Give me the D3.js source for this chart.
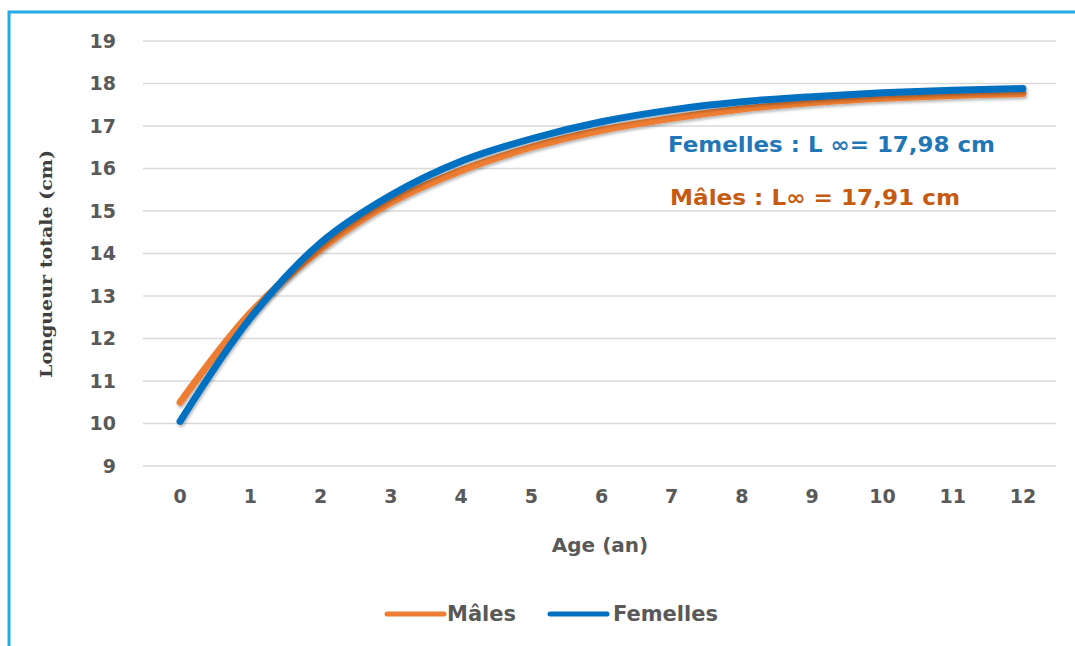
<!DOCTYPE html>
<html><head><meta charset="utf-8">
<script src="https://cdn.jsdelivr.net/npm/d3@7/dist/d3.min.js"></script>
<style>body{margin:0;background:#fff}svg{display:block}</style>
</head><body>
<svg id="c" width="1075" height="646"></svg>
<script>
const ages = [0,1,2,3,4,5,6,7,8,9,10,11,12];
const males = [10.5,12.6,14.1,15.2,15.95,16.5,16.9,17.18,17.4,17.55,17.65,17.72,17.76];
const femelles = [10.05,12.48,14.25,15.37,16.17,16.7,17.1,17.38,17.57,17.69,17.78,17.84,17.88];
const yTicks = [9,10,11,12,13,14,15,16,17,18,19];
const seriesNames = ["Mâles","Femelles"];
const seriesColors = ["#ED7D31","#0070C0"];
const annotations = ["Femelles : L ∞= 17,98 cm","Mâles : L∞ = 17,91 cm"];
const annColors = ["#1F77B8","#C55A11"];

const svg = d3.select("#c");
const defs = svg.append("defs");
const f = defs.append("filter").attr("id","sh").attr("x","-10%").attr("y","-10%").attr("width","120%").attr("height","130%");
f.append("feDropShadow").attr("dx",1).attr("dy",2).attr("stdDeviation",1.5).attr("flood-color","#000").attr("flood-opacity",0.3);

svg.append("rect").attr("x",0).attr("y",0).attr("width",1075).attr("height",646).attr("fill","#fff");
svg.append("path").attr("d","M9,646 V12 H1075").attr("fill","none").attr("stroke","#22AAE6").attr("stroke-width",3);

const x = d3.scaleBand().domain(ages).range([143,1056]);
const y = d3.scaleLinear().domain([9,19]).range([466,41]);
const font = "'DejaVu Sans', Verdana, sans-serif";

svg.append("g").selectAll("line").data(yTicks).join("line")
  .attr("x1",143).attr("x2",1056).attr("y1",d=>y(d)).attr("y2",d=>y(d))
  .attr("stroke","#D9D9D9").attr("stroke-width",1.3);

const ya = svg.append("g").attr("transform","translate(143,0)")
  .call(d3.axisLeft(y).tickValues(yTicks).tickSize(0).tickPadding(27));
ya.select(".domain").remove();
ya.selectAll("text").attr("font-family",font).attr("font-weight",700).attr("font-size",19).attr("fill","#595959");

const xa = svg.append("g").attr("transform","translate(2,466)")
  .call(d3.axisBottom(x).tickSize(0).tickPadding(24));
xa.select(".domain").remove();
xa.selectAll("text").attr("font-family",font).attr("font-weight",700).attr("font-size",19).attr("fill","#595959");

svg.append("text").attr("transform","translate(52,264) rotate(-90)").attr("text-anchor","middle")
  .attr("font-family","'DejaVu Serif','Liberation Serif',serif").attr("font-weight",700).attr("font-size",17)
  .attr("textLength",228).attr("lengthAdjust","spacingAndGlyphs")
  .attr("fill","#3F3F3F").text("Longueur totale (cm)");
svg.append("text").attr("x",600).attr("y",552).attr("text-anchor","middle")
  .attr("font-family",font).attr("font-weight",700).attr("font-size",20).attr("fill","#595959").text("Age (an)");

const line = d3.line().x((d,i)=>x(ages[i])+x.bandwidth()/2+2).y(d=>y(d)).curve(d3.curveCatmullRom);
[males,femelles].forEach((s,k)=>{
  svg.append("path").datum(s).attr("d",line).attr("fill","none")
    .attr("stroke",seriesColors[k]).attr("stroke-width",7).attr("stroke-linecap","round").attr("stroke-linejoin","round")
    .attr("filter","url(#sh)");
});

svg.append("text").attr("x",668).attr("y",152).attr("font-family",font).attr("font-weight",700).attr("font-size",21)
  .attr("textLength",327).attr("lengthAdjust","spacingAndGlyphs")
  .attr("fill",annColors[0]).text(annotations[0]);
svg.append("text").attr("x",670).attr("y",205).attr("font-family",font).attr("font-weight",700).attr("font-size",21)
  .attr("textLength",290).attr("lengthAdjust","spacingAndGlyphs")
  .attr("fill",annColors[1]).text(annotations[1]);

const leg = [{x:387,tx:447},{x:550,tx:613}];
seriesNames.forEach((n,k)=>{
  svg.append("line").attr("x1",leg[k].x).attr("x2",leg[k].x+57).attr("y1",614).attr("y2",614)
    .attr("stroke",seriesColors[k]).attr("stroke-width",5).attr("stroke-linecap","round");
  svg.append("text").attr("x",leg[k].tx).attr("y",621).attr("font-family",font).attr("font-weight",700).attr("font-size",21)
    .attr("fill","#595959").text(n);
});
</script>
</body></html>
